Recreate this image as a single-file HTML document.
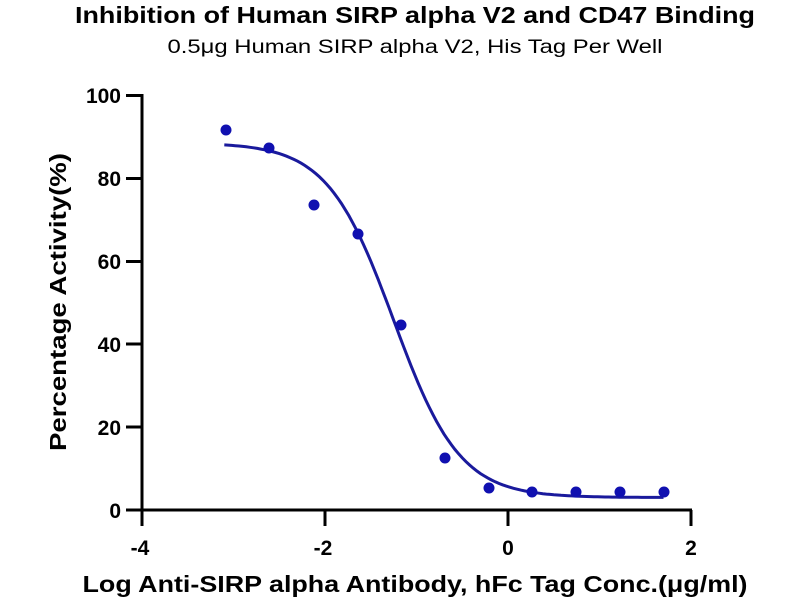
<!DOCTYPE html>
<html><head><style>body{margin:0;background:#fff}svg{display:block}</style></head>
<body>
<svg width="800" height="600" xmlns="http://www.w3.org/2000/svg" font-family="Liberation Sans, Arial, sans-serif">
<rect width="800" height="600" fill="#fff"/>
<text x="415" y="23" font-size="23" font-weight="bold" text-anchor="middle" textLength="680" lengthAdjust="spacingAndGlyphs">Inhibition of Human SIRP alpha V2 and CD47 Binding</text>
<text x="415" y="53" font-size="19" text-anchor="middle" textLength="495" lengthAdjust="spacingAndGlyphs">0.5μg Human SIRP alpha V2, His Tag Per Well</text>
<g stroke="#000" stroke-width="3" fill="none">
<line x1="142" y1="94" x2="142" y2="526"/>
<line x1="126" y1="510" x2="692" y2="510"/>
<line x1="126" y1="95.5" x2="142" y2="95.5"/>
<line x1="126" y1="178.5" x2="142" y2="178.5"/>
<line x1="126" y1="261.5" x2="142" y2="261.5"/>
<line x1="126" y1="344" x2="142" y2="344"/>
<line x1="126" y1="427" x2="142" y2="427"/>
<line x1="325" y1="510" x2="325" y2="526"/>
<line x1="508" y1="510" x2="508" y2="526"/>
<line x1="691" y1="510" x2="691" y2="526"/>
</g>
<g font-size="21" font-weight="bold" text-anchor="end">
<text x="121" y="103">100</text>
<text x="121" y="186">80</text>
<text x="121" y="269">60</text>
<text x="121" y="352">40</text>
<text x="121" y="435">20</text>
<text x="121" y="518">0</text>
</g>
<g font-size="21" font-weight="bold" text-anchor="middle">
<text x="140" y="555">-4</text>
<text x="323" y="555">-2</text>
<text x="508" y="555">0</text>
<text x="691" y="555">2</text>
</g>
<text x="415" y="592" font-size="23" font-weight="bold" text-anchor="middle" textLength="665" lengthAdjust="spacingAndGlyphs">Log Anti-SIRP alpha Antibody, hFc Tag Conc.(μg/ml)</text>
<text transform="translate(66,302) rotate(-90)" font-size="23" font-weight="bold" text-anchor="middle" textLength="298" lengthAdjust="spacingAndGlyphs">Percentage Activity(%)</text>
<path id="c" fill="none" stroke="#1a1a9c" stroke-width="3"/>
<g fill="#1010b0">
<circle cx="226" cy="130" r="5.5"/><circle cx="269" cy="148" r="5.5"/><circle cx="314" cy="205" r="5.5"/>
<circle cx="358" cy="234" r="5.5"/><circle cx="401" cy="325" r="5.5"/><circle cx="445" cy="458" r="5.5"/>
<circle cx="489" cy="488" r="5.5"/><circle cx="532" cy="492" r="5.5"/><circle cx="576" cy="492" r="5.5"/>
<circle cx="620" cy="492" r="5.5"/><circle cx="664" cy="492" r="5.5"/>
</g>
</svg>
<script>
var d="";for(var i=0;i<=120;i++){var x=-3.1+i*4.8/120;var y=3+85.5/(1+Math.pow(10,(x+1.25)*1.2));var px=508+x*91.5,py=510-y*4.15;d+=(i?"L":"M")+px.toFixed(1)+" "+py.toFixed(1);}
document.getElementById("c").setAttribute("d",d);
</script>
</body></html>
